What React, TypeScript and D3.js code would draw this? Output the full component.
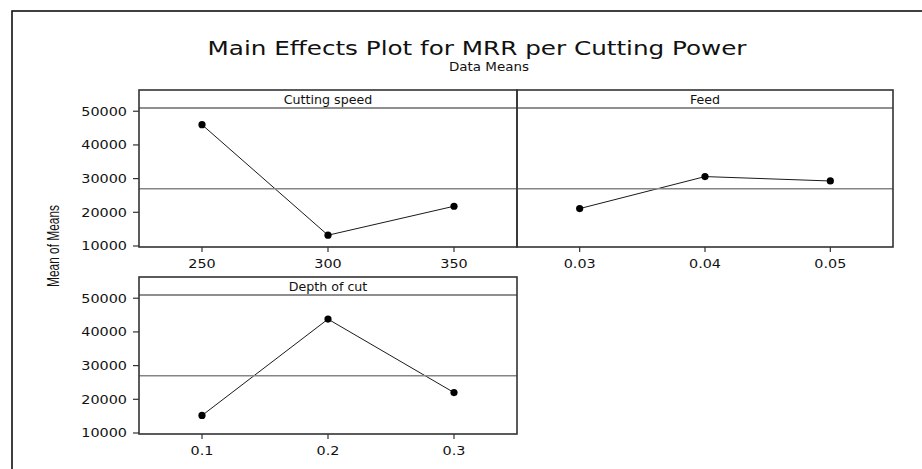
import React from "react";
import * as d3 from "d3";

const speedLevels = ["250", "300", "350"];
const speedMeans = [46000, 13200, 21800];
const feedLevels = ["0.03", "0.04", "0.05"];
const feedMeans = [21100, 30600, 29300];
const depthLevels = ["0.1", "0.2", "0.3"];
const depthMeans = [15200, 43800, 22000];
const yTicks = [10000, 20000, 30000, 40000, 50000];
const panelTitles = ["Cutting speed", "Feed", "Depth of cut"];
const chartTitle = "Main Effects Plot for MRR per Cutting Power";
const chartSubtitle = "Data Means";
const yLabel = "Mean of Means";

const SX = 1.25;
const FONT = "'DejaVu Sans', Verdana, sans-serif";
const COND = "'DejaVu Sans Condensed', 'DejaVu Sans', Tahoma, sans-serif";

function T({ x, y, sx = SX, anchor = "middle", size = 12, family = FONT, rotate, children, textLength, stretch }: any) {
  return (
    <text
      transform={`translate(${x},${y}) scale(${sx},1)${rotate ? ` rotate(${rotate})` : ""}`}
      textAnchor={anchor}
      fontSize={size}
      fontFamily={family}
      fontStretch={stretch}
      fill="#111"
      textLength={textLength}
      lengthAdjust={textLength ? "spacingAndGlyphs" : undefined}
    >
      {children}
    </text>
  );
}

const allMeans = [...speedMeans, ...feedMeans, ...depthMeans];
const grandMean = d3.mean(allMeans) as number;

function Panel({ x0, x1, top, headerH, bottom, levels, means, title, showY }: any) {
  const headerY = top + headerH;
  const y = d3.scaleLinear().domain([9700, 50960]).range([bottom, headerY]);
  const x = d3.scalePoint<string>().domain(levels).range([x0, x1]).padding(0.5);
  const line = d3
    .line<number>()
    .x((_, i) => x(levels[i]) as number)
    .y((d) => y(d));
  return (
    <g>
      <path d={line(means) as string} fill="none" stroke="#1a1a1a" strokeWidth={1} />
      {means.map((m: number, i: number) => (
        <circle key={i} cx={x(levels[i])} cy={y(m)} r={3.6} fill="#000" />
      ))}
      <line x1={x0} x2={x1} y1={y(grandMean)} y2={y(grandMean)} stroke="#858585" strokeWidth={1.6} />
      <line x1={x0} x2={x1} y1={headerY} y2={headerY} stroke="#6a6a6a" strokeWidth={1.6} />
      <rect x={x0} y={top} width={x1 - x0} height={bottom - top} fill="none" stroke="#333" strokeWidth={1.6} />
      <T x={(x0 + x1) / 2} y={top + 13.5} size={11.5} sx={1.1}>{title}</T>
      {levels.map((l: string) => (
        <g key={l}>
          <line x1={x(l)} x2={x(l)} y1={bottom} y2={bottom + 5} stroke="#333" strokeWidth={1.2} />
          <T x={x(l)} y={bottom + 20.5} size={11.5}>{l}</T>
        </g>
      ))}
      {showY &&
        yTicks.map((t) => (
          <g key={t}>
            <line x1={x0 - 6} x2={x0} y1={y(t)} y2={y(t)} stroke="#333" strokeWidth={1.2} />
            <T x={x0 - 12} y={y(t) + 4.5} anchor="end" size={11.5}>{t}</T>
          </g>
        ))}
    </g>
  );
}

export default function App() {
  const colL = 139, colM = 517, colR = 893;
  const row1Top = 90, row1Bottom = 247;
  const row2Top = 277, row2Bottom = 434;
  const headerH = 18;
  return (
    <svg width={922} height={469} style={{ position: "absolute", left: 0, top: 0, background: "#fff" }}>
      <rect x={0} y={0} width={922} height={469} fill="#fff" />
      <rect x={12} y={11} width={1000} height={1000} fill="none" stroke="#111" strokeWidth={1.6} />
      <T x={477} y={55} size={19} sx={1} textLength={539} family={COND} stretch="condensed">{chartTitle}</T>
      <T x={489} y={71} size={13} sx={1.15} family={COND} stretch="condensed">{chartSubtitle}</T>
      <T x={59} y={246} size={13} sx={1.3} rotate={-90} textLength={82} family="'Liberation Sans', Arial, sans-serif">{yLabel}</T>
      <Panel x0={colL} x1={colM} top={row1Top} headerH={headerH} bottom={row1Bottom} levels={speedLevels} means={speedMeans} title={panelTitles[0]} showY />
      <Panel x0={colM} x1={colR} top={row1Top} headerH={headerH} bottom={row1Bottom} levels={feedLevels} means={feedMeans} title={panelTitles[1]} showY={false} />
      <Panel x0={colL} x1={colM} top={row2Top} headerH={headerH} bottom={row2Bottom} levels={depthLevels} means={depthMeans} title={panelTitles[2]} showY />
    </svg>
  );
}
